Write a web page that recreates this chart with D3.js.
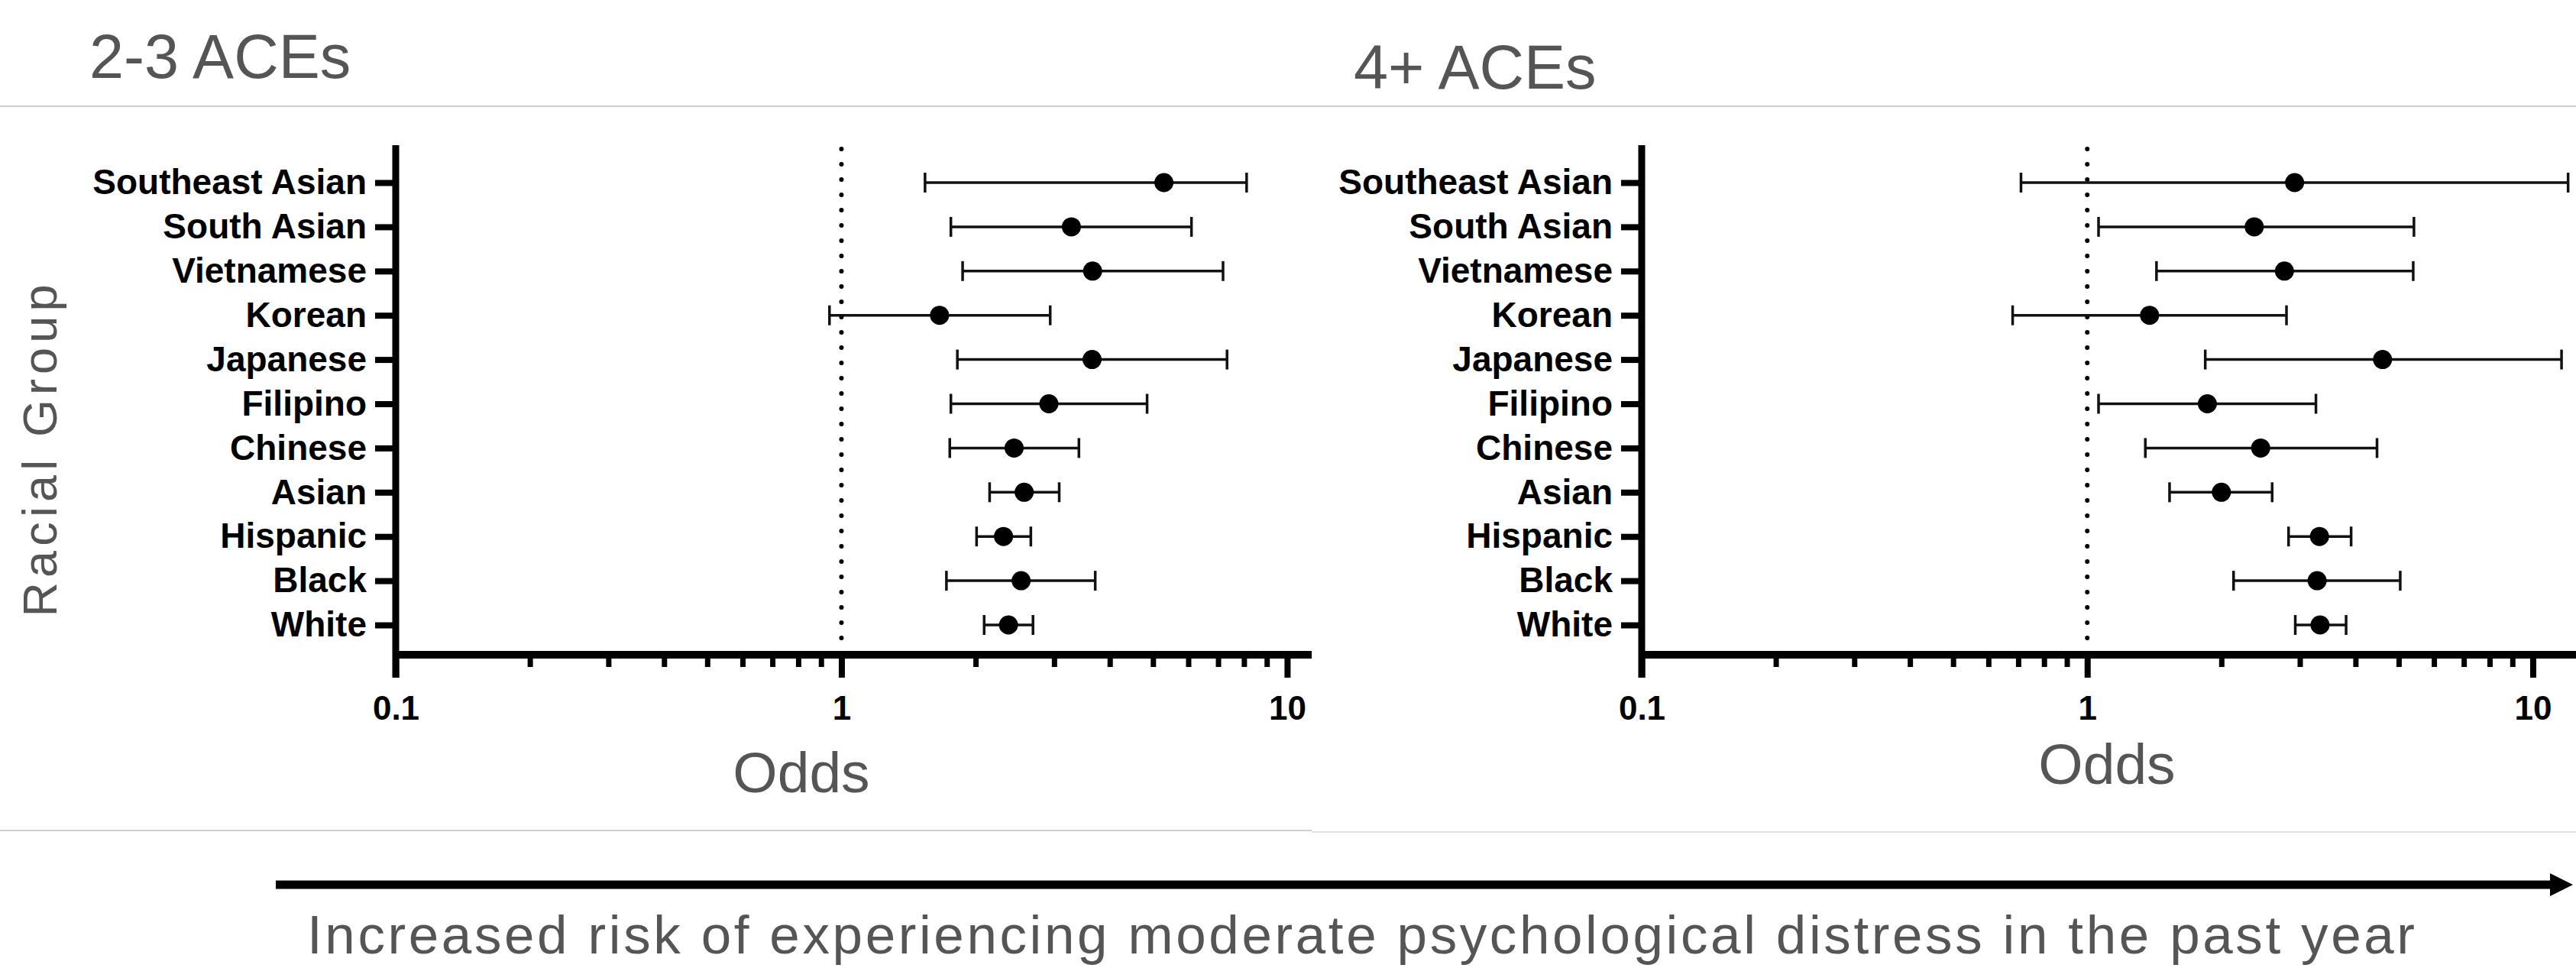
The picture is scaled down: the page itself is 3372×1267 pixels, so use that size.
<!DOCTYPE html>
<html>
<head>
<meta charset="utf-8">
<title>ACEs and psychological distress</title>
<script src="https://cdn.jsdelivr.net/npm/d3@7"></script>
<style>
  body { margin: 0; background: #fff; }
  svg { display: block; }
  .cat { font-family: "Liberation Sans", Arial, sans-serif; font-weight: bold; font-size: 46px; fill: #000; }
  .tick-lbl { font-family: "Liberation Sans", Arial, sans-serif; font-weight: bold; font-size: 44px; fill: #000; }
  .gray { font-family: "Liberation Sans", Arial, sans-serif; fill: #555; }
</style>
</head>
<body>
<script>
// racial groups, top to bottom
var categories = ["Southeast Asian", "South Asian", "Vietnamese", "Korean", "Japanese",
                  "Filipino", "Chinese", "Asian", "Hispanic", "Black", "White"];

// 2-3 ACEs: odds ratio with lower / upper CI
var or23 = [5.29, 3.28, 3.66, 1.66, 3.65, 2.92, 2.44, 2.57, 2.31, 2.53, 2.37];
var lo23 = [1.54, 1.76, 1.87, 0.94, 1.82, 1.76, 1.75, 2.15, 2.01, 1.72, 2.09];
var hi23 = [8.11, 6.10, 7.18, 2.94, 7.33, 4.85, 3.41, 3.08, 2.66, 3.71, 2.69];

// 4+ ACEs
var or4 = [2.92, 2.37, 2.77, 1.38, 4.60, 1.86, 2.45, 2.00, 3.32, 3.28, 3.33];
var lo4 = [0.71, 1.06, 1.43, 0.68, 1.84, 1.06, 1.35, 1.53, 2.83, 2.13, 2.93];
var hi4 = [12.0, 5.41, 5.39, 2.80, 11.6, 3.26, 4.47, 2.60, 3.91, 5.04, 3.81];

var majorTicks = [0.1, 1, 10];
var minorTicks = [0.2, 0.3, 0.4, 0.5, 0.6, 0.7, 0.8, 0.9, 2, 3, 4, 5, 6, 7, 8, 9];
var tickLabels = ["0.1", "1", "10"];

var W = 3372, H = 1267;

var svg = d3.select("body").append("svg")
    .attr("width", W)
    .attr("height", H);

svg.append("rect").attr("width", W).attr("height", H).attr("fill", "#fff");

// frame lines
svg.append("line").attr("x1", 0).attr("x2", W).attr("y1", 139).attr("y2", 139)
    .attr("stroke", "#cfcfcf").attr("stroke-width", 2);
svg.append("line").attr("x1", 0).attr("x2", 1717).attr("y1", 1087).attr("y2", 1087)
    .attr("stroke", "#cfcfcf").attr("stroke-width", 2);
svg.append("line").attr("x1", 1717).attr("x2", W).attr("y1", 1089).attr("y2", 1089)
    .attr("stroke", "#e2e2e2").attr("stroke-width", 2);

var y = d3.scalePoint()
    .domain(categories)
    .range([239, 818]);

var axisY = 857;

function panel(opts) {
  var x = d3.scaleLog().domain(opts.domain).range(opts.range);
  var x0 = opts.range[0];
  var g = svg.append("g");

  // reference line at 1
  g.append("line")
      .attr("x1", x(1)).attr("x2", x(1))
      .attr("y1", 195).attr("y2", axisY - 6)
      .attr("stroke", "#000")
      .attr("stroke-width", 6)
      .attr("stroke-linecap", "round")
      .attr("stroke-dasharray", "0 20");

  // error bars
  var rows = g.selectAll(".row")
    .data(categories)
    .enter().append("g")
      .attr("class", "row");

  rows.append("line")
      .attr("x1", function(d, i) { return x(opts.lo[i]); })
      .attr("x2", function(d, i) { return x(opts.hi[i]); })
      .attr("y1", function(d) { return y(d); })
      .attr("y2", function(d) { return y(d); })
      .attr("stroke", "#111").attr("stroke-width", 3.5);

  rows.append("line")
      .attr("x1", function(d, i) { return x(opts.lo[i]); })
      .attr("x2", function(d, i) { return x(opts.lo[i]); })
      .attr("y1", function(d) { return y(d) - 13; })
      .attr("y2", function(d) { return y(d) + 13; })
      .attr("stroke", "#111").attr("stroke-width", 3.5);

  rows.append("line")
      .attr("x1", function(d, i) { return x(opts.hi[i]); })
      .attr("x2", function(d, i) { return x(opts.hi[i]); })
      .attr("y1", function(d) { return y(d) - 13; })
      .attr("y2", function(d) { return y(d) + 13; })
      .attr("stroke", "#111").attr("stroke-width", 3.5);

  rows.append("circle")
      .attr("cx", function(d, i) { return x(opts.or[i]); })
      .attr("cy", function(d) { return y(d); })
      .attr("r", 12.5)
      .attr("fill", "#000");

  // x axis
  var xg = g.append("g").attr("transform", "translate(0," + axisY + ")");

  xg.append("g")
      .call(d3.axisBottom(x).tickValues(minorTicks).tickSize(16).tickFormat(""))
      .call(function(s) {
        s.select(".domain").remove();
        s.selectAll(".tick line").attr("stroke", "#000").attr("stroke-width", 7);
      });

  xg.append("g")
      .call(d3.axisBottom(x).tickValues(majorTicks).tickSize(30).tickSizeOuter(0)
        .tickFormat(function(d, i) { return tickLabels[i]; }))
      .call(function(s) {
        s.select(".domain").attr("stroke", "#000").attr("stroke-width", 10)
          .attr("d", "M" + x0 + ",0H" + opts.range[1]);
        s.selectAll(".tick line").attr("stroke", "#000").attr("stroke-width", 8);
        s.selectAll(".tick text")
          .attr("class", "tick-lbl")
          .attr("y", 85).attr("dy", null)
          .attr("font-family", null).attr("font-size", null).attr("fill", null);
      });

  // y axis
  g.append("line")
      .attr("x1", x0).attr("x2", x0)
      .attr("y1", 190).attr("y2", 887)
      .attr("stroke", "#000").attr("stroke-width", 9);

  var yg = g.append("g").attr("transform", "translate(" + x0 + ",0)")
      .call(d3.axisLeft(y).tickSize(27).tickPadding(11))
      .call(function(s) {
        s.select(".domain").remove();
        s.selectAll(".tick line").attr("stroke", "#000").attr("stroke-width", 8);
        s.selectAll(".tick text")
          .attr("class", "cat")
          .attr("font-family", null).attr("font-size", null).attr("fill", null);
      });

  // titles
  svg.append("text")
      .attr("class", "gray")
      .attr("x", opts.titleX).attr("y", opts.titleY)
      .attr("font-size", 81)
      .text(opts.title);

  svg.append("text")
      .attr("class", "gray")
      .attr("x", opts.oddsX).attr("y", opts.oddsY)
      .attr("text-anchor", "middle")
      .attr("font-size", 75)
      .text("Odds");
}

panel({
  domain: [0.1, 11.35], range: [518, 1717],
  or: or23, lo: lo23, hi: hi23,
  title: "2-3 ACEs", titleX: 117, titleY: 102,
  oddsX: 1049, oddsY: 1037
});

panel({
  domain: [0.1, 12.5], range: [2149, 3372],
  or: or4, lo: lo4, hi: hi4,
  title: "4+ ACEs", titleX: 1772, titleY: 116,
  oddsX: 2758, oddsY: 1026
});

// y axis title
svg.append("text")
    .attr("class", "gray")
    .attr("transform", "translate(74,590)rotate(-90)")
    .attr("text-anchor", "middle")
    .attr("font-size", 63)
    .attr("textLength", 435)
    .attr("lengthAdjust", "spacing")
    .text("Racial Group");

// risk arrow
svg.append("defs").append("marker")
    .attr("id", "head")
    .attr("viewBox", "0 0 30 30")
    .attr("refX", 0).attr("refY", 15)
    .attr("markerWidth", 30).attr("markerHeight", 30)
    .attr("markerUnits", "userSpaceOnUse")
    .attr("orient", "auto")
  .append("path")
    .attr("d", "M0,0L30,15L0,30Z")
    .attr("fill", "#000");

svg.append("line")
    .attr("x1", 361).attr("x2", 3338)
    .attr("y1", 1158).attr("y2", 1158)
    .attr("stroke", "#000").attr("stroke-width", 11)
    .attr("marker-end", "url(#head)");

svg.append("text")
    .attr("class", "gray")
    .attr("x", 402).attr("y", 1248)
    .attr("font-size", 71)
    .attr("textLength", 2759)
    .attr("lengthAdjust", "spacing")
    .text("Increased risk of experiencing moderate psychological distress in the past year");
</script>
</body>
</html>
